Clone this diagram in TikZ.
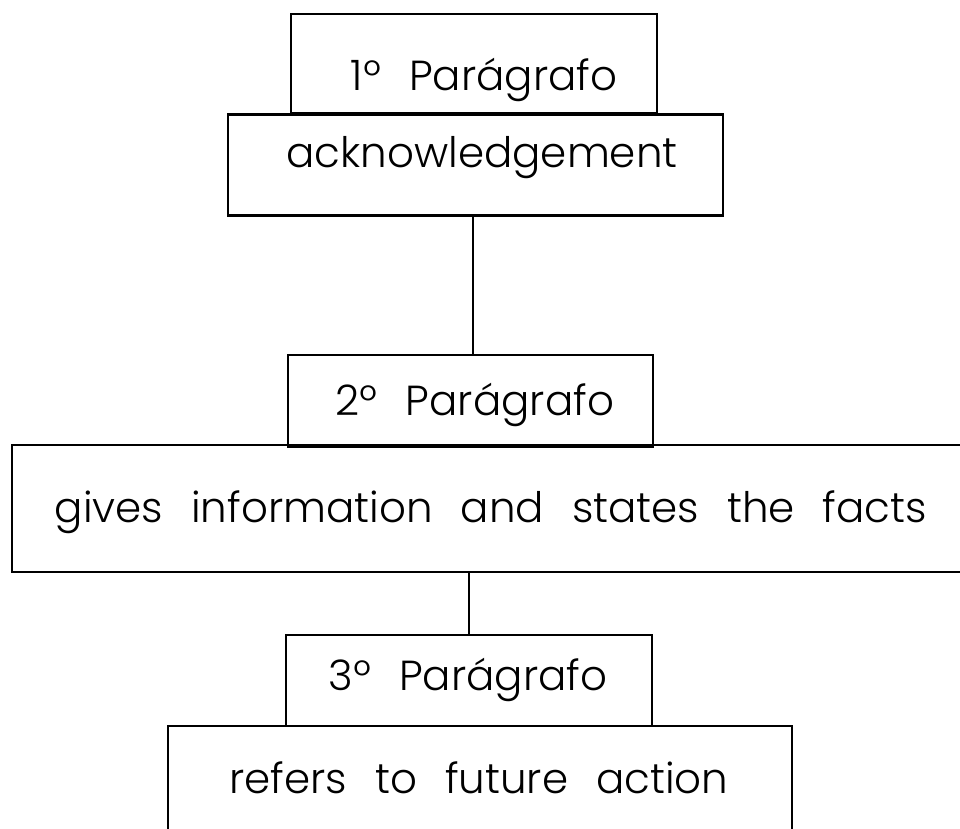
\documentclass[tikz,border=0pt]{standalone}
\usepackage{fontspec}
\IfFontExistsTF{Poppins Light}{\setmainfont{Poppins Light}}{\setmainfont{Poppins}}
\newcommand\mylblfont{\fontsize{42}{50}\selectfont\spaceskip=28pt plus 0pt minus 0pt\relax}
\begin{document}
\begin{tikzpicture}[x=1pt,y=-1pt,
  box/.style={draw=black, line width=2.8pt, inner sep=0pt, minimum width=#1},
  lbl/.style={anchor=base, inner sep=0pt, font=\mylblfont},
  conn/.style={draw=black, line width=2.8pt}]
\path[use as bounding box] (0,0) rectangle (960,828);
\clip (0,0) rectangle (960,828);
\node[box=366pt, minimum height=99pt] (A) at (474,63.5) {};
\node[box=495pt, minimum height=101pt] (B) at (475.5,165) {};
\node[box=365pt, minimum height=92pt] (C) at (470.5,401) {};
\node[box=958pt, minimum height=127pt] (D) at (491,508.5) {};
\node[box=366pt, minimum height=91pt] (E) at (469,680.5) {};
\node[box=624pt, minimum height=106pt] (F) at (480,779) {};
\node[lbl] (At) at (484,90) {1º Parágrafo};
\node[lbl] (Bt) at (482,167) {acknowledgement};
\node[lbl] (Ct) at (475,415) {2º Parágrafo};
\node[lbl] (Dt) at (491,522) {gives information and states the facts};
\node[lbl] (Et) at (468,690) {3º Parágrafo};
\node[lbl] (Ft) at (479,793) {refers to future action};
\draw[conn] ([xshift=-2.5pt]B.south) -- ([xshift=-2.5pt]B.south |- C.north);
\draw[conn] (E.north |- D.south) -- (E.north);
\end{tikzpicture}
\end{document}
